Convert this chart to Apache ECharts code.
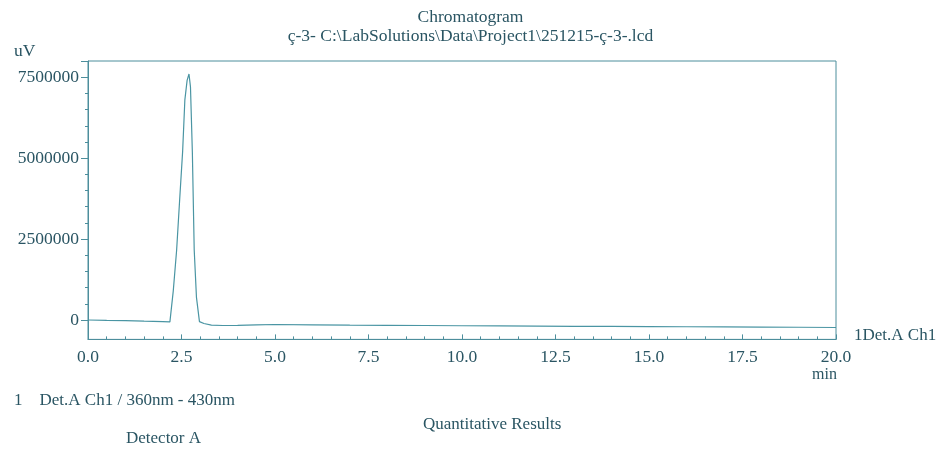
<!DOCTYPE html>
<html><head><meta charset="utf-8">
<script src="https://cdn.jsdelivr.net/npm/echarts@6/dist/echarts.min.js"></script>
<style>html,body{margin:0;padding:0;background:#fff}#c{width:941px;height:455px}</style>
</head><body><div id="c"></div>
<script>
// Retention time (min) and detector signal (uV)
const times = [0, 0.5, 1.0, 1.5, 2.0, 2.19, 2.28, 2.37, 2.45, 2.53, 2.59, 2.65, 2.70, 2.74, 2.79, 2.84, 2.90, 2.98, 3.1, 3.3, 3.6, 4.0, 4.5, 5.0, 6.0, 7.0, 8.0, 9.0, 10.0, 11.0, 12.0, 13.0, 14.0, 15.0, 16.0, 17.0, 18.0, 19.0, 20.0];
const signal = [0, -12000, -22000, -38000, -50000, -60000, 900000, 2160000, 3700000, 5200000, 6800000, 7400000, 7600000, 7200000, 5200000, 2160000, 700000, -50000, -110000, -160000, -170000, -165000, -150000, -140000, -150000, -160000, -165000, -170000, -178000, -182000, -188000, -195000, -200000, -205000, -210000, -215000, -220000, -225000, -232000];
const xTicks = ['0.0','2.5','5.0','7.5','10.0','12.5','15.0','17.5','20.0'];
const yTicks = [0, 2500000, 5000000, 7500000];

const txt = '#2a5563', axc = '#4d8e9c', lc = '#4a95a3';
const font = '"Liberation Serif", "DejaVu Serif", serif';
const fs = 17.5;
const chart = echarts.init(document.getElementById('c'));
const ts = {fontFamily: font, fontSize: fs, fontWeight: 'normal', color: txt};
const ts2 = Object.assign({}, ts, {fontSize: 17});
chart.setOption({
  animation: false,
  backgroundColor: '#fff',
  textStyle: {fontFamily: font, color: txt},
  title: [
    {text: 'Chromatogram', subtext: 'ç-3- C:\\LabSolutions\\Data\\Project1\\251215-ç-3-.lcd', left: 'center', top: 3, itemGap: 1,
     textStyle: ts, subtextStyle: {fontFamily: font, fontSize: fs, color: txt}},
    {text: 'uV', left: 9, top: 37, textStyle: ts},
    {text: 'min', left: 807, top: 362, textStyle: Object.assign({}, ts, {fontSize: 16})},
    {text: '1    Det.A Ch1 / 360nm - 430nm', left: 9, top: 387, textStyle: ts2},
    {text: 'Quantitative Results', left: 418, top: 411, textStyle: ts2},
    {text: 'Detector A', left: 121, top: 425, textStyle: ts2}
  ],
  grid: [
    {left: 88, right: 105, top: 61, bottom: 115.6, show: true, borderColor: axc, borderWidth: 1, backgroundColor: 'transparent'},
    {left: 88, right: 105, top: 61, bottom: 135, show: false}
  ],
  xAxis: [
    {type: 'value', gridIndex: 0, min: 0, max: 20, interval: 2.5,
     axisLine: {show: true, onZero: false, lineStyle: {color: axc}},
     axisTick: {show: true, inside: true, length: 5, lineStyle: {color: axc}},
     minorTick: {show: true, splitNumber: 5, length: 3, lineStyle: {color: axc}},
     splitLine: {show: false},
     axisLabel: {margin: 9, fontSize: fs, fontFamily: font, color: txt, formatter: (v) => xTicks[Math.round(v / 2.5)]}},
    {type: 'value', gridIndex: 1, min: 0, max: 20, show: false}
  ],
  yAxis: [
    {type: 'value', gridIndex: 0, min: -600000, max: 8000000,
     axisLine: {show: true, onZero: false, lineStyle: {color: axc}}, axisTick: {show: false}, axisLabel: {show: false}, splitLine: {show: false}},
    {type: 'value', gridIndex: 1, min: 0, max: 8000000, interval: 2500000,
     axisLine: {show: false, onZero: false},
     axisTick: {show: true, length: 7, lineStyle: {color: axc}},
     minorTick: {show: true, splitNumber: 5, length: 3, lineStyle: {color: axc}},
     splitLine: {show: false},
     axisLabel: {margin: 9, fontSize: fs, fontFamily: font, color: txt, formatter: (v) => yTicks.includes(v) ? String(v) : ''}}
  ],
  series: [{
    type: 'line', xAxisIndex: 0, yAxisIndex: 0, showSymbol: false,
    lineStyle: {color: lc, width: 1.2},
    data: times.map((t, i) => [t, signal[i]]),
    endLabel: {show: true, formatter: '1Det.A Ch1', distance: 18, offset: [0, 8], fontSize: 17, fontFamily: font, color: txt},
    labelLayout: {hideOverlap: false}
  }]
});
</script></body></html>
